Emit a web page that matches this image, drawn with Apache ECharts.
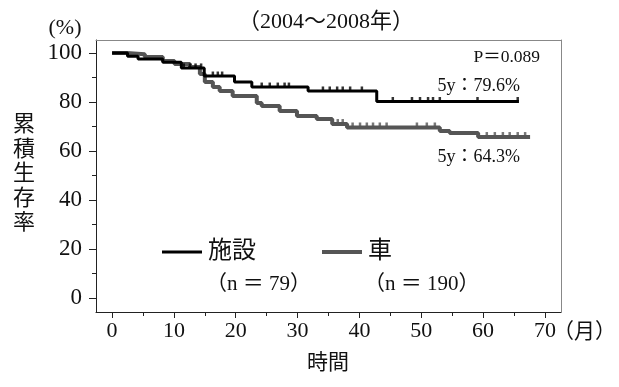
<!DOCTYPE html>
<html><head><meta charset="utf-8">
<script src="https://cdn.jsdelivr.net/npm/echarts@6/dist/echarts.min.js"></script>
<style>html,body{margin:0;padding:0;background:#fff}#c{width:619px;height:387px}</style>
</head><body><div id="c"></div>
<script>
const xMajor = [0, 10, 20, 30, 40, 50, 60, 70];
const xMinor = [5, 15, 25, 35, 45, 55, 65];
const yMajor = [0, 20, 40, 60, 80, 100];
const yMinor = [10, 30, 50, 70, 90];

const blackTimes = [0, 2.5, 4.2, 8.2, 11.2, 14.9, 19.8, 22.6, 31.7, 42.8, 65.8];
const blackSurv  = [100, 98.7, 97.5, 96.2, 93.9, 90.6, 88.2, 86.1, 84.5, 80.2, 80.2];
const blackCensor = [11.6, 12.6, 13.5, 14.4, 16.3, 17.1, 17.8, 24.2, 25.5, 26.8, 27.9, 28.6, 34.1, 35.2, 36.4, 37.3, 38.5, 40.4, 45.4, 48.5, 49.8, 51.1, 51.9, 53.0, 59.1, 65.6];

const grayTimes = [0, 2.4, 5.3, 8.2, 10.1, 12.6, 14.2, 15.0, 16.3, 17.4, 19.5, 23.4, 24.2, 27.1, 29.9, 33.1, 35.6, 38.0, 53.0, 54.6, 59.2, 67.6];
const graySurv  = [100, 99.5, 98.4, 96.7, 95.5, 94.3, 91.4, 88.2, 86.1, 84.5, 82.4, 79.6, 78.4, 76.3, 74.3, 73.1, 71.0, 69.6, 68.2, 67.3, 65.7, 65.7];
const grayCensor = [36.5, 37.3, 38.9, 40.1, 41.2, 42.2, 43.3, 44.4, 49.3, 50.9, 52.2, 60.6, 61.9, 63.2, 64.3, 65.6, 66.8];

const names = ['施設', '車'];
const nLabels = ['（n ＝ 79）', '（n ＝ 190）'];
const titleText = '（2004～2008年）';
const pText = 'P＝0.089';
const fiveY = ['5y：79.6%', '5y：64.3%'];

function lookup(times, surv, t) {
  let v = surv[0];
  for (let i = 0; i < times.length; i++) if (times[i] <= t) v = surv[i];
  return v;
}
const pairs = (a, b) => a.map((t, i) => [t, b[i]]);

const SERIF = '"Liberation Serif","DejaVu Serif","Noto Sans CJK JP",serif';
const XMIN = -2.6, XMAX = 72.6, YMIN = -5.7, YMAX = 105.3;

const chart = echarts.init(document.getElementById('c'));
const baseX = {type: 'value', min: XMIN, max: XMAX, splitLine: {show: false}};
const baseY = {type: 'value', min: YMIN, max: YMAX, splitLine: {show: false}};
chart.setOption({
  animation: false,
  grid: {left: 96, top: 40, right: 58, bottom: 75, containLabel: false},
  xAxis: [
    Object.assign({}, baseX, {position: 'bottom',
      axisLine: {show: true, onZero: false, lineStyle: {color: '#222', width: 1}},
      axisTick: {show: true, customValues: xMajor, length: 6, lineStyle: {color: '#222'}},
      axisLabel: {customValues: xMajor, fontSize: 22, fontFamily: SERIF, color: '#111', margin: 8}}),
    Object.assign({}, baseX, {position: 'bottom',
      axisLine: {show: false, onZero: false},
      axisTick: {show: true, customValues: xMinor, length: 4, lineStyle: {color: '#222'}},
      axisLabel: {show: false}}),
    Object.assign({}, baseX, {position: 'top',
      axisLine: {show: true, onZero: false, lineStyle: {color: '#888', width: 1}},
      axisTick: {show: false}, axisLabel: {show: false}})
  ],
  yAxis: [
    Object.assign({}, baseY, {position: 'left',
      axisLine: {show: true, onZero: false, lineStyle: {color: '#222', width: 1}},
      axisTick: {show: true, customValues: yMajor, length: 7, lineStyle: {color: '#222'}},
      axisLabel: {customValues: yMajor, fontSize: 23, fontFamily: SERIF, color: '#111', margin: 14}}),
    Object.assign({}, baseY, {position: 'left',
      axisLine: {show: false, onZero: false},
      axisTick: {show: true, customValues: yMinor, length: 4, lineStyle: {color: '#222'}},
      axisLabel: {show: false}}),
    Object.assign({}, baseY, {position: 'right',
      axisLine: {show: true, onZero: false, lineStyle: {color: '#888', width: 1}},
      axisTick: {show: false}, axisLabel: {show: false}})
  ],
  series: [
    {name: names[1], type: 'line', step: 'end', data: pairs(grayTimes, graySurv), showSymbol: false,
     lineStyle: {color: '#555', width: 4}, z: 2},
    {name: names[1] + 'c', type: 'scatter', symbol: 'rect', symbolSize: [2.5, 4], symbolOffset: [0, -3],
     data: grayCensor.map(t => [t, lookup(grayTimes, graySurv, t)]),
     itemStyle: {color: '#555'}, z: 2},
    {name: names[0], type: 'line', step: 'end', data: pairs(blackTimes, blackSurv), showSymbol: false,
     lineStyle: {color: '#000', width: 3}, z: 3},
    {name: names[0] + 'c', type: 'scatter', symbol: 'rect', symbolSize: [2.5, 4], symbolOffset: [0, -2.5],
     data: blackCensor.map(t => [t, lookup(blackTimes, blackSurv, t)]),
     itemStyle: {color: '#000'}, z: 3}
  ],
  graphic: [
    {type: 'text', x: 326, y: 22, style: {text: titleText, font: '22px ' + SERIF, fill: '#111', align: 'center', verticalAlign: 'middle'}},
    {type: 'text', x: 65, y: 28, style: {text: '(%)', font: '22px ' + SERIF, fill: '#111', align: 'center', verticalAlign: 'middle'}},
    {type: 'text', x: 13, y: 113, style: {text: '累\n積\n生\n存\n率', font: '22px ' + SERIF, lineHeight: 24.5, fill: '#111'}},
    {type: 'text', x: 553, y: 332, style: {text: '（月）', font: '21px ' + SERIF, fill: '#111', verticalAlign: 'middle'}},
    {type: 'text', x: 328, y: 363, style: {text: '時間', font: '21px ' + SERIF, fill: '#111', align: 'center', verticalAlign: 'middle'}},
    {type: 'text', x: 540, y: 57, style: {text: pText, font: '17.5px ' + SERIF, fill: '#111', align: 'right', verticalAlign: 'middle'}},
    {type: 'text', x: 520, y: 86, style: {text: fiveY[0], font: '18px ' + SERIF, fill: '#111', align: 'right', verticalAlign: 'middle'}},
    {type: 'text', x: 520, y: 157, style: {text: fiveY[1], font: '18px ' + SERIF, fill: '#111', align: 'right', verticalAlign: 'middle'}},
    {type: 'line', shape: {x1: 162, y1: 252, x2: 202, y2: 252}, style: {stroke: '#000', lineWidth: 3}},
    {type: 'text', x: 208, y: 252, style: {text: names[0], font: '24px ' + SERIF, fill: '#111', verticalAlign: 'middle'}},
    {type: 'line', shape: {x1: 322, y1: 252, x2: 362, y2: 252}, style: {stroke: '#555', lineWidth: 4}},
    {type: 'text', x: 368, y: 252, style: {text: names[1], font: '24px ' + SERIF, fill: '#111', verticalAlign: 'middle'}},
    {type: 'text', x: 206, y: 284, style: {text: nLabels[0], font: '21px ' + SERIF, fill: '#111', verticalAlign: 'middle'}},
    {type: 'text', x: 364, y: 284, style: {text: nLabels[1], font: '21px ' + SERIF, fill: '#111', verticalAlign: 'middle'}}
  ]
});
</script></body></html>
